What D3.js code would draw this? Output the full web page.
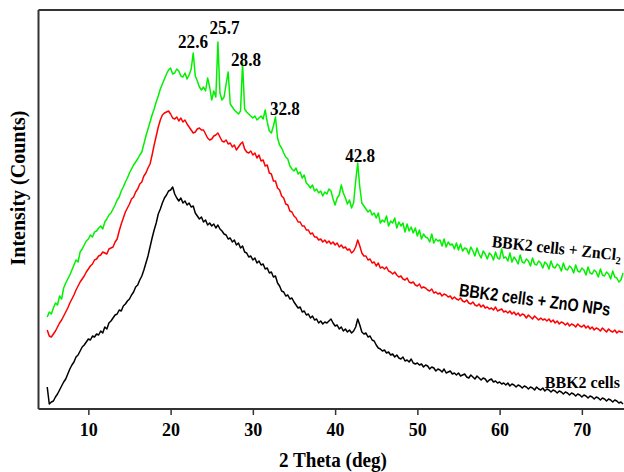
<!DOCTYPE html>
<html>
<head>
<meta charset="utf-8">
<script src="https://cdn.jsdelivr.net/npm/d3@7"></script>
<style>
body { margin: 0; background: #fff; }
svg text { font-family: "Liberation Serif", "Times New Roman", serif; font-weight: bold; fill: #000; }
</style>
</head>
<body>
<div id="canvas"></div>
<script>
var WIDTH = 624, HEIGHT = 472;
var LEFT = 39, RIGHT = 623, TOP = 9, BOTTOM = 409;

// 2 theta sampling: starts at 5 deg, one reading every 0.25 deg
var X_START = 5, X_STEP = 0.25;
var xTicks = [10, 20, 30, 40, 50, 60, 70];

// BBK2 cells (black)
var cells = [
    22, 5, 7, 8, 12, 15, 19, 23, 27, 30, 35, 40, 44, 47, 52, 54, 58, 62, 64, 67,
    70, 69, 73, 72, 75, 74, 78, 76, 82, 80, 86, 88, 91, 94, 95, 99, 98, 103, 105, 108,
    110, 114, 117, 122, 124, 129, 133, 139, 146, 153, 162, 171, 179, 186, 195, 200, 206, 211, 214, 218,
    219, 222, 215, 211, 208, 211, 206, 208, 204, 206, 202, 203, 196, 193, 190, 192, 187, 189, 184, 186,
    183, 185, 181, 184, 180, 178, 175, 174, 170, 171, 167, 169, 164, 166, 161, 163, 157, 156, 152, 153,
    149, 151, 146, 148, 144, 145, 140, 141, 136, 137, 132, 133, 126, 123, 118, 117, 113, 114, 110, 111,
    107, 104, 101, 102, 97, 98, 94, 95, 91, 93, 89, 90, 86, 88, 85, 87, 86, 88, 90, 86,
    83, 84, 80, 82, 78, 80, 77, 79, 76, 78, 82, 90, 84, 77, 75, 76, 72, 73, 69, 68,
    64, 61, 60, 58, 59, 56, 57, 54, 55, 52, 54, 51, 50, 52, 48, 49, 47, 50, 46, 45,
    46, 44, 45, 42, 44, 43, 40, 42, 41, 38, 40, 39, 37, 40, 36, 37, 38, 35, 36, 34,
    36, 33, 34, 35, 32, 31, 34, 32, 30, 33, 31, 29, 31, 30, 27, 29, 30, 27, 28, 26,
    27, 25, 26, 24, 26, 23, 25, 24, 22, 24, 23, 21, 23, 22, 20, 22, 21, 19, 22, 20,
    19, 21, 18, 20, 19, 17, 19, 18, 16, 18, 17, 15, 17, 16, 14, 16, 15, 13, 15, 14,
    12, 14, 13, 11, 13, 12, 10, 12, 11, 9, 11, 10, 8, 10, 9, 7, 9, 8, 6, 7,
    5
];

// BBK2 cells + ZnO NPs (red)
var znoNps = [
    79, 73, 72, 75, 78, 82, 86, 89, 93, 97, 101, 106, 110, 114, 119, 123, 127, 130, 133, 137,
    140, 143, 145, 149, 150, 153, 154, 157, 156, 155, 160, 161, 162, 167, 170, 178, 185, 191, 197, 201,
    205, 210, 212, 217, 220, 225, 227, 233, 236, 241, 245, 254, 264, 273, 282, 289, 294, 296, 297, 298,
    295, 291, 290, 292, 288, 291, 287, 289, 285, 282, 279, 276, 277, 280, 281, 279, 279, 275, 271, 269,
    270, 273, 274, 276, 272, 268, 267, 269, 265, 266, 262, 264, 259, 262, 265, 267, 260, 257, 256, 258,
    254, 256, 251, 254, 248, 249, 243, 244, 236, 235, 228, 228, 221, 219, 213, 211, 205, 204, 198, 197,
    193, 191, 187, 187, 183, 183, 179, 179, 175, 176, 172, 172, 169, 170, 167, 169, 166, 168, 165, 167,
    164, 166, 162, 164, 161, 162, 159, 160, 156, 158, 162, 169, 163, 156, 153, 153, 149, 150, 146, 147,
    143, 146, 141, 142, 140, 142, 138, 137, 135, 137, 134, 132, 133, 130, 129, 131, 127, 126, 127, 124,
    123, 125, 121, 122, 121, 119, 118, 120, 116, 117, 115, 116, 113, 115, 114, 112, 113, 110, 112, 110,
    109, 111, 108, 107, 109, 106, 105, 107, 104, 103, 105, 102, 104, 101, 102, 100, 101, 99, 102, 98,
    99, 100, 97, 98, 96, 98, 95, 97, 94, 96, 93, 95, 94, 91, 94, 92, 90, 93, 91, 89,
    91, 89, 90, 88, 90, 87, 89, 86, 88, 85, 87, 86, 84, 86, 83, 85, 84, 82, 85, 83,
    82, 84, 81, 83, 80, 82, 79, 81, 80, 78, 81, 79, 77, 80, 78, 77, 79, 76, 78, 77,
    77
];

// BBK2 cells + ZnCl2 (green)
var zncl2 = [
    92, 97, 95, 101, 106, 104, 113, 110, 121, 126, 130, 134, 139, 144, 149, 147, 157, 160, 164, 168,
    170, 174, 172, 177, 178, 181, 183, 180, 187, 190, 194, 196, 200, 204, 209, 212, 218, 222, 227, 231,
    236, 240, 244, 247, 250, 254, 257, 265, 273, 280, 287, 294, 300, 307, 313, 320, 325, 330, 335, 339,
    341, 335, 336, 340, 338, 333, 332, 336, 330, 334, 340, 356, 333, 328, 322, 319, 322, 318, 331, 322,
    309, 318, 312, 367, 316, 309, 312, 325, 337, 305, 302, 299, 297, 295, 298, 346, 300, 297, 295, 293,
    291, 293, 289, 291, 293, 290, 299, 287, 278, 276, 283, 292, 271, 264, 261, 256, 252, 250, 243, 240,
    238, 241, 235, 237, 231, 234, 226, 224, 221, 224, 218, 220, 216, 218, 213, 217, 215, 220, 218, 210,
    204, 211, 214, 224, 216, 211, 205, 209, 201, 206, 228, 246, 222, 206, 203, 200, 197, 199, 194, 196,
    191, 196, 186, 189, 187, 193, 183, 188, 186, 191, 181, 187, 183, 186, 177, 185, 178, 182, 176, 181,
    173, 179, 170, 175, 172, 171, 167, 175, 166, 170, 168, 169, 163, 170, 162, 167, 164, 165, 160, 166,
    159, 165, 158, 161, 160, 155, 162, 158, 153, 161, 155, 151, 158, 155, 150, 156, 154, 149, 157, 151,
    150, 160, 151, 152, 148, 156, 147, 152, 149, 145, 154, 147, 146, 150, 148, 143, 151, 145, 144, 148,
    146, 141, 147, 145, 140, 148, 142, 141, 145, 143, 138, 146, 140, 139, 143, 141, 136, 144, 138, 137,
    141, 139, 134, 142, 136, 135, 139, 137, 132, 140, 134, 133, 137, 135, 130, 138, 132, 131, 127, 129,
    136
];

var peakPos = [22.6, 25.7, 28.8, 32.8, 42.8];
var peakText = ['22.6', '25.7', '28.8', '32.8', '42.8'];
// label nudges in pixels
var peakDx = [1, 7, 3, 9, 2];
var peakDy = [-5, -8, 3, -2, -1];

var svg = d3.select('#canvas').append('svg')
    .attr('width', WIDTH)
    .attr('height', HEIGHT);

var x = d3.scaleLinear().domain([4, 75]).range([LEFT, RIGHT]);
var y = d3.scaleLinear().domain([0, 400]).range([BOTTOM, TOP]);

function toPoints(values) {
    return values.map(function(v, i) { return [X_START + i * X_STEP, v]; });
}

var line = d3.line()
    .x(function(d) { return x(d[0]); })
    .y(function(d) { return y(d[1]); });

var series = [
    {values: cells, color: '#000000'},
    {values: znoNps, color: '#ff0000'},
    {values: zncl2, color: '#00f000'}
];

series.forEach(function(s) {
    svg.append('path')
        .attr('d', line(toPoints(s.values)))
        .attr('fill', 'none')
        .attr('stroke', s.color)
        .attr('stroke-width', 1.5)
        .attr('stroke-linejoin', 'round');
});

// frame: left, top and bottom
svg.append('line').attr('x1', 38.5).attr('x2', 38.5).attr('y1', 10).attr('y2', BOTTOM)
    .attr('stroke', '#333').attr('stroke-width', 2);
svg.append('line').attr('x1', 38.5).attr('x2', WIDTH).attr('y1', 10).attr('y2', 10)
    .attr('stroke', '#333').attr('stroke-width', 2);
svg.append('line').attr('x1', 38.5).attr('x2', WIDTH).attr('y1', BOTTOM).attr('y2', BOTTOM)
    .attr('stroke', '#333').attr('stroke-width', 2);

var xAxis = d3.axisBottom(x)
    .tickValues(xTicks)
    .tickSize(6)
    .tickSizeOuter(0)
    .tickPadding(8);

var gx = svg.append('g')
    .attr('transform', 'translate(0,' + BOTTOM + ')')
    .call(xAxis);
gx.attr('font-family', null).attr('font-size', null);
gx.select('.domain').remove();
gx.selectAll('.tick line').attr('stroke', '#333').attr('stroke-width', 1.5);
gx.selectAll('.tick text').style('font-size', '18px');

svg.append('text')
    .attr('x', 333)
    .attr('y', 467)
    .attr('text-anchor', 'middle')
    .attr('textLength', 108)
    .attr('lengthAdjust', 'spacingAndGlyphs')
    .style('font-size', '22px')
    .text('2 Theta (deg)');

svg.append('text')
    .attr('transform', 'translate(25,188) rotate(-90)')
    .attr('text-anchor', 'middle')
    .style('font-size', '20px')
    .text('Intensity (Counts)');

// peak labels over the ZnCl2 curve
peakPos.forEach(function(p, k) {
    var top = d3.max(toPoints(zncl2).filter(function(d) { return Math.abs(d[0] - p) <= 0.3; }),
        function(d) { return d[1]; });
    svg.append('text')
        .attr('x', x(p) + peakDx[k])
        .attr('y', y(top) + peakDy[k])
        .attr('text-anchor', 'middle')
        .attr('textLength', 30)
        .attr('lengthAdjust', 'spacingAndGlyphs')
        .style('font-size', '18px')
        .text(peakText[k]);
});

// curve names (squeezed sideways like the original figure)
svg.append('text')
    .attr('transform', 'translate(' + x(65.5) + ',' + y(21) + ')')
    .attr('textLength', 75)
    .attr('lengthAdjust', 'spacingAndGlyphs')
    .style('font-size', '17px')
    .text('BBK2 cells');

svg.append('text')
    .attr('transform', 'translate(' + x(55.0) + ',' + y(113) + ') rotate(7.5) scale(0.8,1)')
    .style('font-family', '"Liberation Sans", Arial, sans-serif')
    .style('font-size', '18px')
    .text('BBK2 cells + ZnO NPs');

var zlabel = svg.append('text')
    .attr('transform', 'translate(' + x(59.0) + ',' + y(162) + ') rotate(6) scale(0.92,1)')
    .style('font-size', '17px');
zlabel.append('tspan').text('BBK2 cells + ZnCl');
zlabel.append('tspan').attr('dy', 4).style('font-size', '11px').text('2');
</script>
</body>
</html>
